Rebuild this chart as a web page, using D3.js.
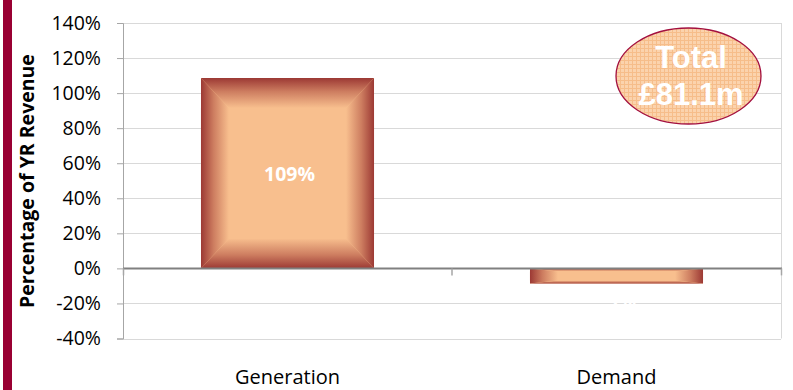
<!DOCTYPE html>
<html lang="en">
<head>
<meta charset="utf-8">
<title>Percentage of YR Revenue</title>
<script src="https://d3js.org/d3.v7.min.js"></script>
<style>
  body { margin: 0; background: #fff; }
  text { font-family: "Open Sans", "Noto Sans", sans-serif; }
</style>
</head>
<body>
<svg id="chart" width="793" height="390"></svg>
<script>
// data
var categories = ["Generation", "Demand"]
var values = [108.6, -8.6]
var valueLabels = ["109%", "-9%"]
var yTicks = [-40, -20, 0, 20, 40, 60, 80, 100, 120, 140]
var totalLines = ["Total", "£81.1m"]

var svg = d3.select("#chart")
var plotLeft = 123, plotRight = 781, plotTop = 23, plotBottom = 338.5

var x = d3.scaleBand().domain(categories).range([plotLeft, plotRight]).paddingInner(0.474).paddingOuter(0.237)
var y = d3.scaleLinear().domain([-40, 140]).range([plotBottom, plotTop])

var defs = svg.append("defs")

// maroon strip on the left
svg.append("rect").attr("x", 3).attr("y", 0).attr("width", 9).attr("height", 390).attr("fill", "#990033")

// gridlines
svg.append("g").selectAll("line").data(yTicks.filter(function(d){ return d != 0 }))
  .enter().append("line")
  .attr("x1", plotLeft).attr("x2", plotRight)
  .attr("y1", function(d){ return Math.round(y(d)) + 0.5 })
  .attr("y2", function(d){ return Math.round(y(d)) + 0.5 })
  .attr("stroke", "#d9d9d9").attr("stroke-width", 1)

// right border
svg.append("line").attr("x1", plotRight + 0.5).attr("x2", plotRight + 0.5).attr("y1", y(140)).attr("y2", y(-40))
  .attr("stroke", "#d9d9d9")

// y axis
var yAxis = svg.append("g").attr("transform", "translate(" + plotLeft + ",0)")
  .call(d3.axisLeft(y).tickValues(yTicks).tickSize(6).tickPadding(16).tickFormat(function(d){ return d + "%" }))
yAxis.select(".domain").attr("stroke", "#a6a6a6")
yAxis.selectAll(".tick line").attr("stroke", "#a6a6a6")
yAxis.selectAll(".tick text").attr("fill", "#000").style("font-size", "19.5px").style("font-family", "'Open Sans', sans-serif")

// gradients for the bevelled bars
function grad(id, x1, y1, x2, y2) {
  var g = defs.append("linearGradient").attr("id", id)
    .attr("x1", x1).attr("y1", y1).attr("x2", x2).attr("y2", y2)
  g.append("stop").attr("offset", "0").attr("stop-color", "#9c3934")
  g.append("stop").attr("offset", "0.45").attr("stop-color", "#cd7d60")
  g.append("stop").attr("offset", "1").attr("stop-color", "#f8bf8e")
}
grad("gTop", 0, 0, 0, 1)
grad("gBot", 0, 1, 0, 0)
grad("gLeft", 0, 0, 1, 0)
grad("gRight", 1, 0, 0, 0)

var bars = svg.append("g").selectAll("g").data(categories).enter().append("g")

bars.each(function(c, i) {
  var g = d3.select(this)
  var x0 = x(c), x1 = x(c) + x.bandwidth()
  var y0 = Math.min(y(values[i]), y(0)), y1 = Math.max(y(values[i]), y(0))
  var bx = 28, by = Math.min(30, (y1 - y0) / 5)
  g.append("rect").attr("x", x0).attr("y", y0).attr("width", x1 - x0).attr("height", y1 - y0).attr("fill", "#f8bf8e")
  var pts = function(p){ return p.map(function(q){ return q.join(",") }).join(" ") }
  g.append("polygon").attr("points", pts([[x0, y0], [x1, y0], [x1 - bx, y0 + by], [x0 + bx, y0 + by]])).attr("fill", "url(#gTop)")
  g.append("polygon").attr("points", pts([[x0, y1], [x1, y1], [x1 - bx, y1 - by], [x0 + bx, y1 - by]])).attr("fill", "url(#gBot)")
  g.append("polygon").attr("points", pts([[x0, y0], [x0 + bx, y0 + by], [x0 + bx, y1 - by], [x0, y1]])).attr("fill", "url(#gLeft)")
  g.append("polygon").attr("points", pts([[x1, y0], [x1 - bx, y0 + by], [x1 - bx, y1 - by], [x1, y1]])).attr("fill", "url(#gRight)")
})

// value labels
svg.append("g").selectAll("text").data(categories).enter().append("text")
  .attr("x", function(c){ return x(c) + x.bandwidth() / 2 + 2 })
  .attr("y", function(c, i){ return values[i] > 0 ? (y(values[i]) + y(0)) / 2 + 8 : y(values[i]) + 24 })
  .attr("text-anchor", "middle").attr("fill", "#fff")
  .style("font-size", "19.5px").style("font-weight", "bold")
  .text(function(c, i){ return valueLabels[i] })

// zero line
svg.append("line").attr("x1", plotLeft).attr("x2", plotRight + 1).attr("y1", y(0)).attr("y2", y(0))
  .attr("stroke", "#808080").attr("stroke-width", 2)

// category tick marks
var step = x.step(), edges = [plotLeft + 0.5, plotLeft + step, plotRight + 0.5]
svg.append("g").selectAll("line").data(edges).enter().append("line")
  .attr("x1", function(d){ return d }).attr("x2", function(d){ return d })
  .attr("y1", y(0)).attr("y2", y(0) + 7)
  .attr("stroke", "#a6a6a6").attr("stroke-width", 1.5)

// category labels
svg.append("g").selectAll("text").data(categories).enter().append("text")
  .attr("x", function(c){ return x(c) + x.bandwidth() / 2 })
  .attr("y", 384)
  .attr("text-anchor", "middle").attr("fill", "#000")
  .style("font-size", "20px")
  .text(function(d){ return d })

// y axis title
svg.append("text")
  .attr("transform", "translate(34,181) rotate(-90)")
  .attr("text-anchor", "middle").attr("fill", "#000")
  .style("font-size", "19.5px").style("font-weight", "bold")
  .text("Percentage of YR Revenue")

// total callout ellipse
var pat = defs.append("pattern").attr("id", "hatch").attr("patternUnits", "userSpaceOnUse").attr("width", 4).attr("height", 4)
pat.append("rect").attr("width", 4).attr("height", 4).attr("fill", "#fbd3ad")
pat.append("path").attr("d", "M0,0.5H4M0.5,0V4").attr("stroke", "#f6bd8a").attr("stroke-width", 1)

svg.append("ellipse").attr("cx", 688.5).attr("cy", 76).attr("rx", 72.5).attr("ry", 48)
  .attr("fill", "url(#hatch)").attr("stroke", "#a3103f").attr("stroke-width", 1.3)

svg.append("g").selectAll("text").data(totalLines).enter().append("text")
  .attr("x", 691).attr("y", function(d, i){ return 68 + i * 37 })
  .attr("text-anchor", "middle").attr("fill", "#fff")
  .style("font-family", "'Liberation Sans', Arial, sans-serif")
  .style("font-size", "31px").style("font-weight", "bold")
  .text(function(d){ return d })
</script>
</body>
</html>
